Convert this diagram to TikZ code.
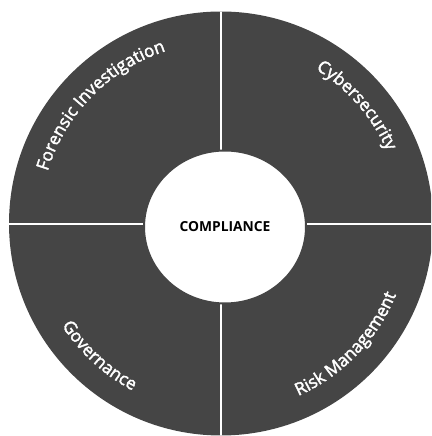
\documentclass[tikz,border=0pt]{standalone}
\usepackage{fontspec}
\setmainfont{Open Sans}
\newfontfamily\ringfamily[FakeBold=2.2]{Open Sans}
\usetikzlibrary{shapes.geometric,decorations.text}
\definecolor{wheelgrey}{HTML}{454545}
\newcommand{\ringfont}{\ringfamily\fontsize{17.3}{20}\selectfont\color{white}}

\begin{document}
\begin{tikzpicture}[x=1pt, y=1pt,
  divider/.style={white, line width=2pt},
  ringlabel/.style={decorate, decoration={text along path, text align=center, text={#1}}}]
\useasboundingbox (0,0) rectangle (431,436);
\clip (0,0) rectangle (431,436);
\coordinate (hub) at (221,212.5);
\fill[wheelgrey] (hub) circle[radius=212];
\begin{scope}
\clip (hub) circle[radius=212];
\draw[divider] (221,0) -- (221,436);
\draw[divider] (0,211.7) -- (431,211.7);
\end{scope}
\node[ellipse, fill=white, draw=wheelgrey, line width=2pt, minimum width=162pt, minimum height=153pt, inner sep=0pt, font=\bfseries\fontsize{13.8}{16}\selectfont] (core) at (225,209) {COMPLIANCE};
% labels on the ring
\path[ringlabel={|\ringfont|Forensic Investigation}] (hub) ++(195.5:181) arc[start angle=195.5, end angle=75.5, radius=181];
\path[ringlabel={|\ringfont|Cybersecurity}] (hub) ++(101:181) arc[start angle=101, end angle=-19, radius=181];
\path[ringlabel={|\ringfont|Risk Management}] (hub) ++(-104:189) arc[start angle=-104, end angle=16, radius=189];
\path[ringlabel={|\ringfont|Governance}] (hub) ++(167.4:189) arc[start angle=167.4, end angle=287.4, radius=189];
\end{tikzpicture}
\end{document}
